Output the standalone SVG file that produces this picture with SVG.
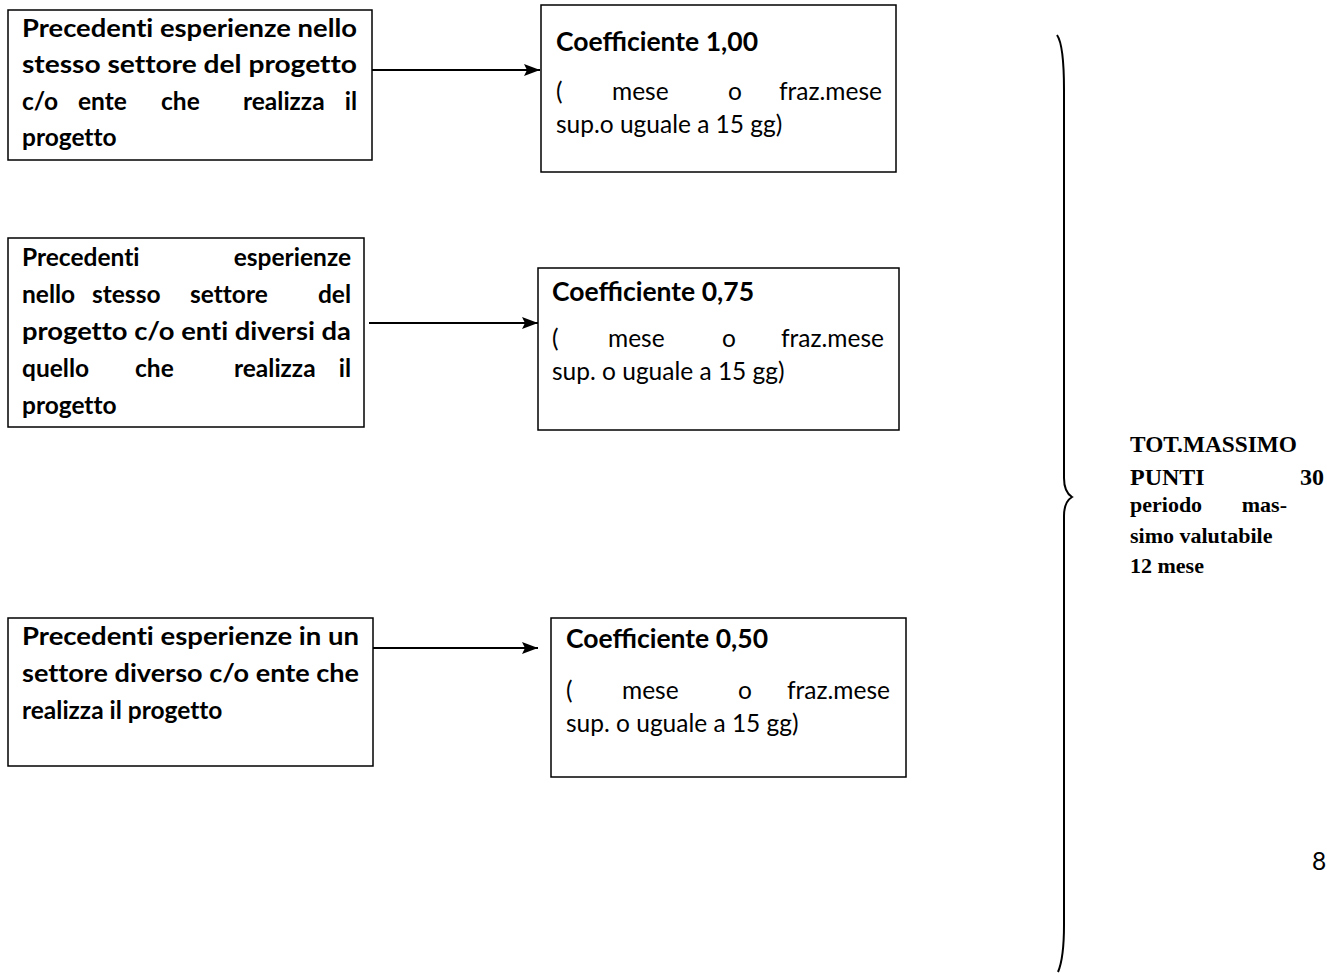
<svg xmlns="http://www.w3.org/2000/svg" width="1327" height="973" viewBox="0 0 1327 973">
<style>
.box{fill:#fff;stroke:#000;stroke-width:1.5}
.b{font-family:Lato,"Open Sans",sans-serif;font-weight:bold;font-size:24.5px;fill:#000;font-variant-ligatures:no-common-ligatures}
.t{font-family:Lato,"Open Sans",sans-serif;font-weight:bold;font-size:26.5px;fill:#000}
.r{font-family:Lato,"Open Sans",sans-serif;font-size:24.5px;fill:#000}
.s{font-family:"Liberation Serif","Times New Roman",serif;font-weight:bold;fill:#000}
.e{text-anchor:end}
.conn{stroke:#000;stroke-width:2;fill:none}
</style>
<defs>
<marker id="arr" viewBox="0 0 16 12" refX="16" refY="6" markerWidth="16" markerHeight="12" markerUnits="userSpaceOnUse" orient="auto">
<path d="M0,0 L16,6 L0,12 L3,6 Z" fill="#000"/>
</marker>
</defs>
<rect width="1327" height="973" fill="#fff"/>
<g id="connectors">
<line class="conn" x1="366" y1="70" x2="540" y2="70" marker-end="url(#arr)"/>
<line class="conn" x1="369" y1="323" x2="538" y2="323" marker-end="url(#arr)"/>
<line class="conn" x1="357" y1="648" x2="538" y2="648" marker-end="url(#arr)"/>
<path class="conn" d="M1057,35 Q1064,45 1064,90 L1064,478 Q1064,492 1072,497 Q1064,502 1064,516 L1064,925 Q1064,958 1058,972"/>
</g>
<g id="n1">
<rect class="box" x="8" y="10" width="364" height="150"/>
<text class="b" x="22" y="37" textLength="335" lengthAdjust="spacingAndGlyphs">Precedenti esperienze nello</text>
<text class="b" x="22" y="73" textLength="335" lengthAdjust="spacingAndGlyphs">stesso settore del progetto</text>
<text class="b" x="22" y="110">c/o</text><text class="b" x="78" y="110">ente</text><text class="b" x="161" y="110">che</text><text class="b" x="243" y="110">realizza</text><text class="b e" x="357" y="110">il</text>
<text class="b" x="22" y="146">progetto</text>
</g>
<g id="n2">
<rect class="box" x="541" y="5" width="355" height="167"/>
<text class="t" x="556" y="51">Coefficiente 1,00</text>
<text class="r" x="556" y="100">(</text><text class="r" x="612" y="100">mese</text><text class="r" x="728" y="100">o</text><text class="r e" x="882" y="100">fraz.mese</text>
<text class="r" x="556" y="133">sup.o uguale a 15 gg)</text>
</g>
<g id="n3">
<rect class="box" x="8" y="238" width="356" height="189"/>
<text class="b" x="22" y="266">Precedenti</text><text class="b e" x="351" y="266">esperienze</text>
<text class="b" x="22" y="303">nello</text><text class="b" x="92" y="303">stesso</text><text class="b" x="190" y="303">settore</text><text class="b e" x="351" y="303">del</text>
<text class="b" x="22" y="340" textLength="329" lengthAdjust="spacingAndGlyphs">progetto c/o enti diversi da</text>
<text class="b" x="22" y="377">quello</text><text class="b" x="135" y="377">che</text><text class="b" x="234" y="377">realizza</text><text class="b e" x="351" y="377">il</text>
<text class="b" x="22" y="414">progetto</text>
</g>
<g id="n4">
<rect class="box" x="538" y="268" width="361" height="162"/>
<text class="t" x="552" y="301">Coefficiente 0,75</text>
<text class="r" x="552" y="347">(</text><text class="r" x="608" y="347">mese</text><text class="r" x="722" y="347">o</text><text class="r e" x="884" y="347">fraz.mese</text>
<text class="r" x="552" y="380">sup. o uguale a 15 gg)</text>
</g>
<g id="n5">
<rect class="box" x="8" y="618" width="365" height="148"/>
<text class="b" x="22" y="645" textLength="337" lengthAdjust="spacingAndGlyphs">Precedenti esperienze in un</text>
<text class="b" x="22" y="682" textLength="337" lengthAdjust="spacingAndGlyphs">settore diverso c/o ente che</text>
<text class="b" x="22" y="719">realizza il progetto</text>
</g>
<g id="n6">
<rect class="box" x="551" y="618" width="355" height="159"/>
<text class="t" x="566" y="648">Coefficiente 0,50</text>
<text class="r" x="566" y="699">(</text><text class="r" x="622" y="699">mese</text><text class="r" x="738" y="699">o</text><text class="r e" x="890" y="699">fraz.mese</text>
<text class="r" x="566" y="732">sup. o uguale a 15 gg)</text>
</g>
<g id="total">
<text class="s" x="1130" y="452" font-size="24" textLength="167" lengthAdjust="spacingAndGlyphs">TOT.MASSIMO</text>
<text class="s" x="1130" y="485" font-size="24">PUNTI</text><text class="s e" x="1324" y="485" font-size="24">30</text>
<text class="s" x="1130" y="512" font-size="22">periodo</text><text class="s e" x="1287" y="512" font-size="22">mas-</text>
<text class="s" x="1130" y="543" font-size="22">simo valutabile</text>
<text class="s" x="1130" y="573" font-size="22">12 mese</text>
</g>
<text class="r" x="1312" y="870" font-size="22">8</text>
</svg>
